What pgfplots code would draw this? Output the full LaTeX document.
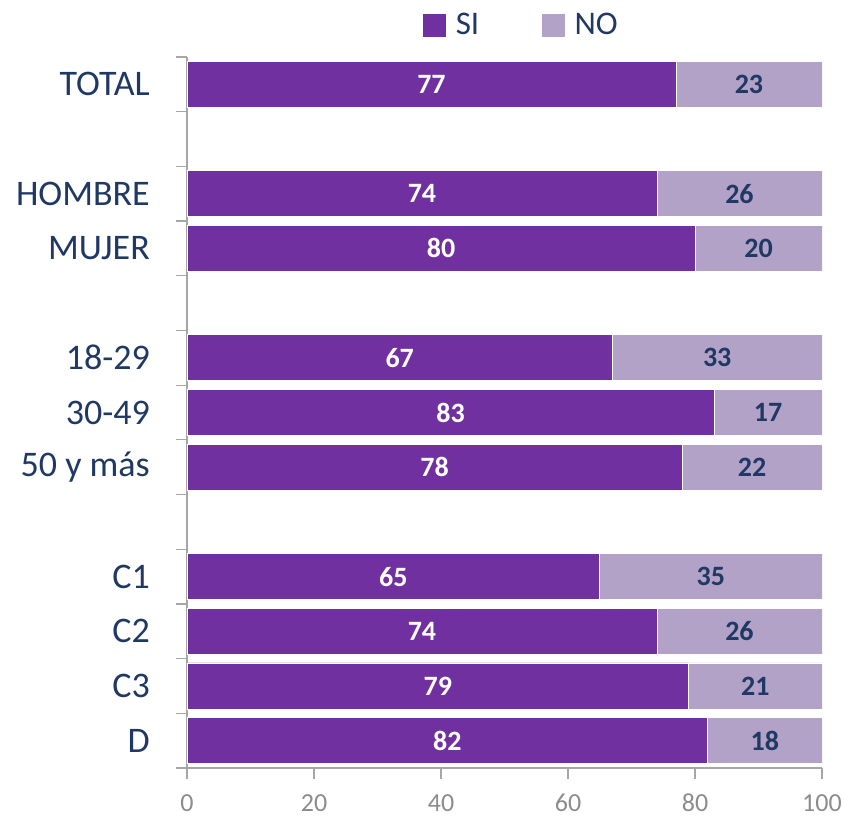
\documentclass[border=0pt]{standalone}
\usepackage{pgfplots}
\pgfplotsset{compat=1.18}
\usepackage{pgfplotstable}
\usepackage{fontspec}
\setmainfont{Carlito}
\definecolor{si}{HTML}{7030A0}
\definecolor{no}{HTML}{B3A2C7}
\definecolor{navy}{HTML}{1F3864}
\definecolor{axgray}{HTML}{A6A6A6}
\definecolor{tickgray}{HTML}{8C8C8C}

\pgfplotstableread{
y si no
12 77 23
10 74 26
9 80 20
7 67 33
6 83 17
5 78 22
3 65 35
2 74 26
1 79 21
0 82 18
}\data

\begin{document}
\begin{tikzpicture}
\path (0,0) rectangle (844bp,820bp);
\begin{axis}[
  at={(187bp,52bp)}, anchor=south west,
  scale only axis, width=635bp, height=711bp,
  xmin=0, xmax=100, ymin=-0.5, ymax=12.5,
  axis x line*=bottom, axis y line*=left,
  axis line style={axgray, line width=1.2bp},
  every tick/.style={axgray, line width=1.2bp},
  tick align=outside,
  major tick length=11bp,
  xtick={0,20,40,60,80,100},
  xticklabels={0,20,40,60,80,100},
  ytick={-0.5,0.5,...,12.5},
  yticklabels={,,,,,,,,,,,,,,},
  extra y ticks={0,1,2,3,4,5,6,7,8,9,10,11,12},
  extra y tick labels={D,C3,C2,C1,,50 y más,30-49,18-29,,MUJER,HOMBRE,,TOTAL},
  extra y tick style={major tick length=0pt,
     yticklabel style={anchor=east, inner sep=0pt, xshift=-37bp,
       font=\fontsize{36bp}{42bp}\selectfont, text=navy}},
  /pgf/number format/assume math mode=true,
  every x tick label/.style={font=\fontsize{26bp}{30bp}\selectfont, text=tickgray, inner sep=0pt, anchor=north, yshift=-15bp},
  legend columns=2,
  legend style={at={(0.372,1.045)}, anchor=west, draw=none, fill=none, inner sep=0pt,
     font=\fontsize{33bp}{38bp}\selectfont, text=navy,
     /tikz/every even column/.append style={column sep=61bp}},
]
\addlegendimage{legend image code/.code={\fill[si] (0bp,-11bp) rectangle (22bp,11bp); \path (30bp,0bp);}}
\addlegendentry{SI}
\addlegendimage{legend image code/.code={\fill[no] (0bp,-11bp) rectangle (22bp,11bp); \path (30bp,0bp);}}
\addlegendentry{NO}
\addplot[xbar, bar width=0.84, bar shift=0pt, fill=no, draw=white, line width=0.8bp, forget plot]
  table[x expr=\thisrow{si}+\thisrow{no}, y=y] {\data};
\addplot[xbar, bar width=0.84, bar shift=0pt, fill=si, draw=white, line width=0.8bp, forget plot]
  table[x=si, y=y] {\data};
\addplot[draw=none, mark=none, forget plot, nodes near coords, point meta=explicit,
  every node near coord/.style={anchor=center, text=white, font=\fontsize{28bp}{30bp}\selectfont\bfseries}]
  table[x expr=\thisrow{si}/2, y=y, meta=si] {\data};
\addplot[draw=none, mark=none, forget plot, nodes near coords, point meta=explicit,
  every node near coord/.style={anchor=center, text=navy, font=\fontsize{28bp}{30bp}\selectfont\bfseries}]
  table[x expr=\thisrow{si}+\thisrow{no}/2, y=y, meta=no] {\data};
\end{axis}
\end{tikzpicture}
\end{document}
